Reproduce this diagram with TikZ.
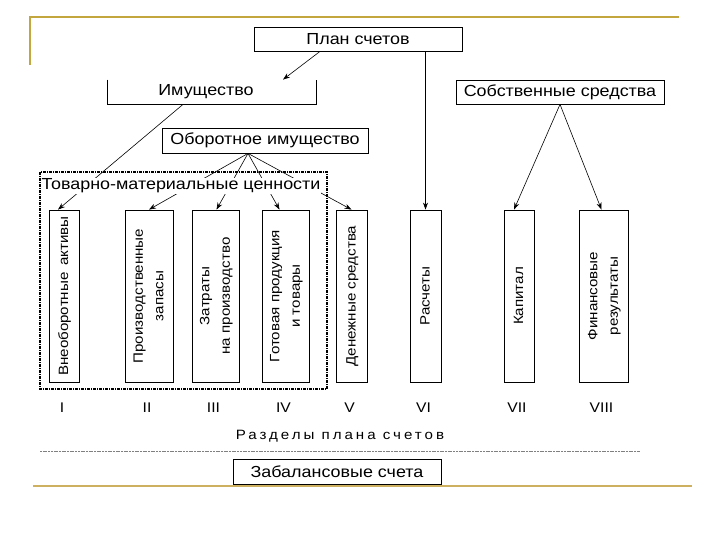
\documentclass[tikz,border=0pt]{standalone}
\usepackage{fontspec}
\setmainfont{Liberation Sans}[FakeStretch=1.12]
\usetikzlibrary{
  arrows.meta
}
\definecolor{framegold}{RGB}{196,166,62}
\definecolor{framesand}{RGB}{205,176,96}
\newcommand{\vtext}[1]{\rotatebox{90}{\begin{tabular}{@{}c@{}}#1\end{tabular}}}

\begin{document}
\begin{tikzpicture}[
  x=1pt, y=-1pt,
  line width=0.8pt,
  box/.style={draw, inner sep=0pt, minimum width=208pt, minimum height=24pt,
    font=\fontsize{16}{18}\selectfont},
  col/.style={draw, inner sep=0pt, minimum height=172pt,
    font=\fontsize{13.5}{20.5}\selectfont},
  arr/.style={-{Stealth[length=7pt,width=5pt]}, line width=0.6pt},
  numeral/.style={font=\fontsize{14}{15}\selectfont},
]
\useasboundingbox (0,0) rectangle (720,540);
% frame
\draw[framegold, line width=2pt] (30,65) -- (30,17) -- (679,17);
\draw[framesand, line width=2.5pt] (33,486) -- (692,486);

% top level
\node[box] (plan) at (358,39) {План счетов};
\node[box, draw=none] (imush) at (212,92) {\hspace{-12pt}Имущество};
\draw (imush.north west) -- (imush.south west) -- (imush.south east) -- (imush.north east);
\node[box] (sobstv) at (560,92) {Собственные средства};
\node[box, minimum width=206pt, minimum height=25pt] (oborot) at (265,140.5) {Оборотное имущество};

% sections
\draw[line width=1.5pt, dash pattern=on 3pt off 1pt on 1pt off 1pt] (40,172) rectangle (327,389);
\node[col, minimum width=30pt] (vneob) at (64,296) {\vtext{Внеоборотные\hspace{0.5em}активы}};
\node[col, minimum width=48pt] (proizv) at (149,296) {\vtext{Производственные\\запасы}};
\node[col, minimum width=47pt] (zatr) at (215.5,296) {\vtext{Затраты\\на производство}};
\node[col, minimum width=47pt] (gotov) at (285.5,296) {\vtext{Готовая продукция\\и товары}};
\node[col, minimum width=31pt] (denezh) at (351.5,296) {\vtext{Денежные средства}};
\node[col, minimum width=31pt] (rasch) at (425.5,296) {\vtext{Расчеты}};
\node[col, minimum width=30pt] (kapit) at (519,296) {\vtext{Капитал}};
\node[col, minimum width=49pt] (finans) at (603.5,296) {\vtext{Финансовые\\результаты}};

% arrows
\draw[arr] ([xshift=-38pt]plan.south) -- ([xshift=71pt]imush.north);
\draw[arr] (rasch.north |- plan.south) -- (rasch.north);
\draw[arr] ([xshift=-29pt]imush.south) -- ([xshift=-6pt]vneob.north);
\draw[arr] ([xshift=-17pt]oborot.south) -- (proizv.north);
\draw[arr] ([xshift=-17pt]oborot.south) -- ([xshift=1pt]zatr.north);
\draw[arr] ([xshift=-17pt]oborot.south) -- ([xshift=-6pt]gotov.north);
\draw[arr] ([xshift=-17pt]oborot.south) -- (denezh.north);
\draw[arr] (sobstv.south) -- ([xshift=-5pt]kapit.north);
\draw[arr] (sobstv.south) -- ([xshift=-2pt]finans.north);
\node[fill=white, inner sep=1pt, font=\fontsize{16}{18}\selectfont] (tmc) at (181,186) {Товарно-материальные ценности};

% numbers
\foreach \c/\n in {vneob/I, proizv/II, zatr/III, gotov/IV, denezh/V, rasch/VI, kapit/VII, finans/VIII}
  \node[numeral] (num-\c) at ([xshift=-2pt, yshift=-25pt]\c.south) {\n};

% bottom
\node[font=\fontsize{13.5}{15}\selectfont\addfontfeature{LetterSpace=22}] (razd) at (340,436) {Разделы плана счетов};
\draw[gray, line width=0.8pt, dash pattern=on 2pt off 0.7pt] (40,451) -- (640,451);
\node[box, minimum height=25pt] (zabal) at (337,471.5) {Забалансовые счета};
\end{tikzpicture}
\end{document}
